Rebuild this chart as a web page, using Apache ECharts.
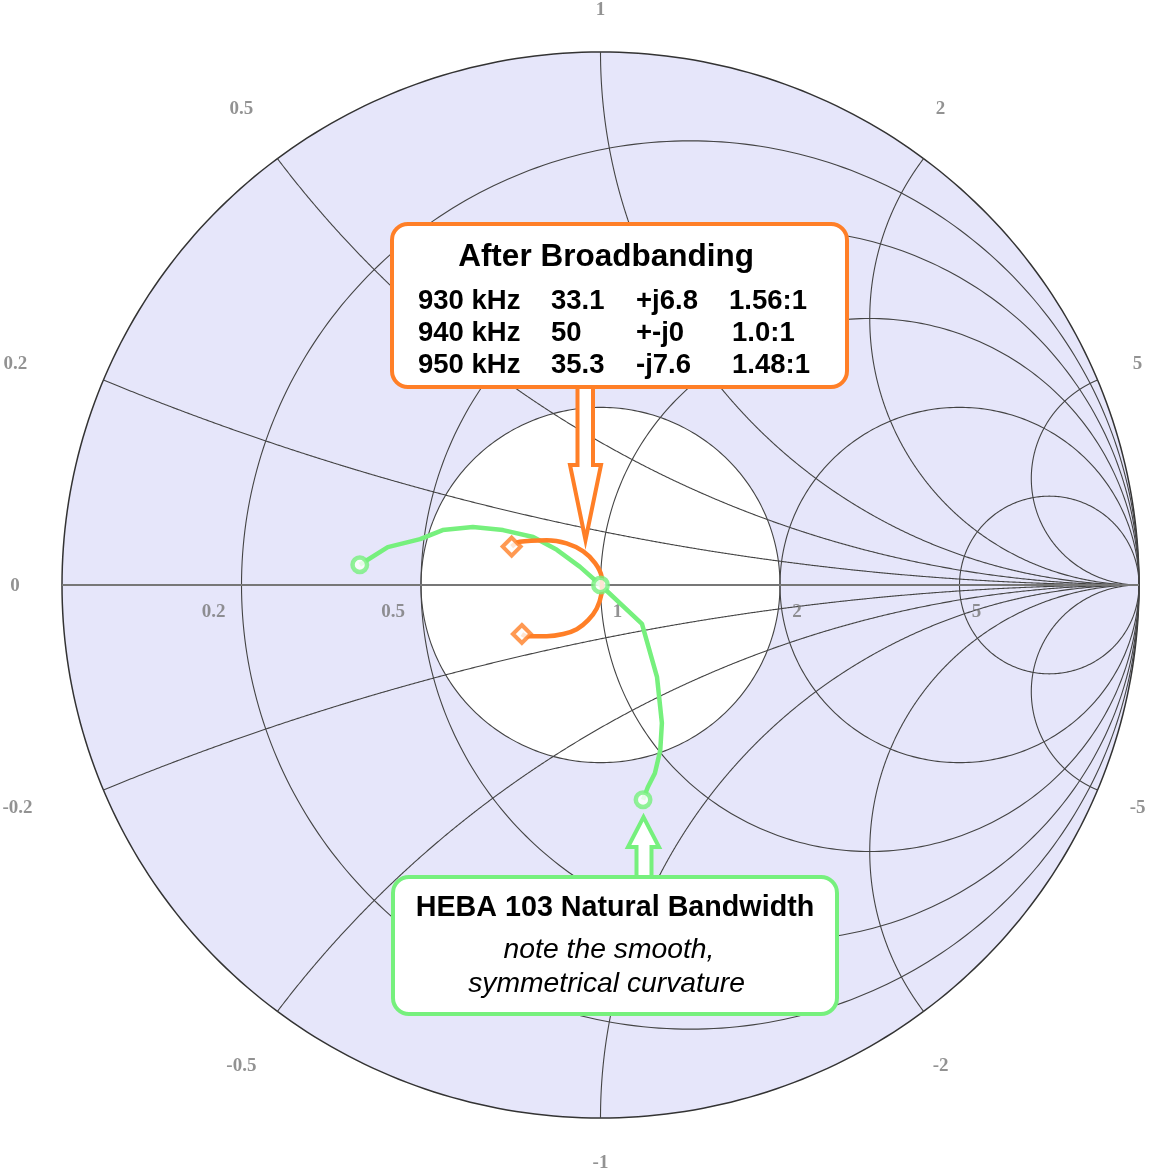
<!DOCTYPE html>
<html><head><meta charset="utf-8">
<script src="https://cdn.jsdelivr.net/npm/echarts@6/dist/echarts.min.js"></script>
<style>html,body{margin:0;padding:0;background:#fff}#c{width:1149px;height:1173px}</style>
</head><body><div id="c"></div>
<script>
// ---- Smith chart grid values ----
const resistanceTicks = [0.2, 0.5, 1, 2, 5];
const realAxisLabels = ['0.2', '0.5', '1', '2', '5'];
const reactanceTicks = [0.2, 0.5, 1, 2, 5, -0.2, -0.5, -1, -2, -5];
const imagLabelTicks = [1, 0.5, 2, 0.2, 5, 0, -0.2, -5, -0.5, -2, -1];
const imagAxisLabels = ['1', '0.5', '2', '0.2', '5', '0', '-0.2', '-5', '-0.5', '-2', '-1'];
const vswrRatio = 2; // 2:1 VSWR circle (white)

const hebaRe = [-0.447, -0.395, -0.335, -0.293, -0.237, -0.181, -0.125, -0.081, -0.038, 0.000, 0.077, 0.105, 0.114, 0.111, 0.101, 0.088, 0.079];
const hebaIm = [0.038, 0.071, 0.086, 0.103, 0.109, 0.103, 0.090, 0.066, 0.034, 0.000, -0.073, -0.173, -0.259, -0.310, -0.353, -0.379, -0.403];
const hebaMarkerIdx = [0, 9, 16];
const bbRe = [-0.165, -0.150, -0.100, -0.063, -0.032, -0.010, 0.002, 0.003, 0.002, -0.007, -0.023, -0.044, -0.069, -0.100, -0.137, -0.146];
const bbIm = [0.072, 0.081, 0.084, 0.078, 0.063, 0.041, 0.016, 0.000, -0.016, -0.044, -0.066, -0.083, -0.092, -0.096, -0.096, -0.092];
const bbMarkerIdx = [0, 15];

// ---- Annotation text ----
const bbTitle = 'After Broadbanding';
const bbFreq = ['930 kHz', '940 kHz', '950 kHz'];
const bbR = ['33.1', '50', '35.3'];
const bbX = ['+j6.8', '+-j0', '-j7.6'];
const bbSwr = ['1.56:1', '1.0:1', '1.48:1'];
const hebaTitle = 'HEBA 103 Natural Bandwidth';
const hebaNote = ['note the smooth,', 'symmetrical curvature'];

const ORANGE = '#ff7f27';
const GREEN = '#76f07d';
const LAV = '#e6e6fa';

function gam(r, x) { const d = (r + 1) * (r + 1) + x * x; return [(r * r + x * x - 1) / d, 2 * x / d]; }

const gridDefs = [{ kind: 'outer' }];
resistanceTicks.forEach(r => gridDefs.push({ kind: 'r', v: r }));
reactanceTicks.forEach(x => gridDefs.push({ kind: 'x', v: x }));
gridDefs.push({ kind: 'vswr', v: vswrRatio });
gridDefs.push({ kind: 'axis' });

function circlePts(c, R) {
  const p = [];
  for (let i = 0; i <= 360; i++) { const t = i / 360 * 2 * Math.PI; p.push([c + R * Math.cos(t), R * Math.sin(t)]); }
  return p;
}
function pathPoints(def) {
  if (def.kind === 'outer') return circlePts(0, 1);
  if (def.kind === 'r') return circlePts(def.v / (def.v + 1), 1 / (def.v + 1));
  if (def.kind === 'vswr') return circlePts(0, (def.v - 1) / (def.v + 1));
  if (def.kind === 'axis') return [[-1, 0], [1, 0]];
  const p = [];
  for (let i = 0; i < 800; i++) { const r = Math.tan(i / 800 * Math.PI / 2); p.push(gam(r, def.v)); }
  p.push([1, 0]);
  return p;
}
function styleOf(def) {
  if (def.kind === 'outer') return { stroke: '#333', lineWidth: 1.5 };
  if (def.kind === 'axis') return { stroke: '#777', lineWidth: 2 };
  if (def.kind === 'vswr') return { stroke: '#444', lineWidth: 1.1 };
  return { stroke: '#444', lineWidth: 1.1 };
}

const labelFont = { fontFamily: 'Liberation Serif', fontWeight: 'bold', fontSize: 19, color: '#777' };
const imagOffsets = {
  '1': [0, -42], '0.5': [-36, -50], '2': [17, -50], '0.2': [-88, -16], '5': [40, -16], '0': [-47, 1],
  '-0.2': [-86, 18], '-5': [40, 18], '-0.5': [-36, 55], '-2': [17, 55], '-1': [0, 45]
};

const FONT = '"Liberation Sans", Arial, sans-serif';
const chart = echarts.init(document.getElementById('c'));
const option = {
  animation: false,
  backgroundColor: '#fff',
  grid: { left: 62, top: 52, width: 1077, height: 1066 },
  xAxis: { type: 'value', min: -1, max: 1, show: false },
  yAxis: { type: 'value', min: -1, max: 1, show: false },
  series: [
    {
      type: 'custom', name: 'fill', z: 1, silent: true,
      data: [[0, 0]],
      renderItem: (params, api) => {
        const disk = circlePts(0, 1).map(p => api.coord(p));
        const g = (vswrRatio - 1) / (vswrRatio + 1);
        const white = circlePts(0, g).map(p => api.coord(p));
        return { type: 'group', children: [
          { type: 'polygon', shape: { points: disk }, style: { fill: LAV, stroke: null } },
          { type: 'polygon', shape: { points: white }, style: { fill: '#fff', stroke: null } }
        ] };
      }
    },
    {
      type: 'custom', name: 'grid', z: 2, silent: true,
      data: gridDefs.map(() => [0, 0]),
      renderItem: (params, api) => {
        const def = gridDefs[params.dataIndex];
        const pts = pathPoints(def).map(p => api.coord(p));
        return { type: 'polyline', shape: { points: pts }, style: Object.assign({ fill: null }, styleOf(def)) };
      }
    },
    {
      type: 'scatter', name: 'realLabels', z: 3, silent: true, symbolSize: 0.1,
      itemStyle: { color: 'transparent' },
      data: resistanceTicks.map((r, i) => ({
        value: [gam(r, 0)[0], 0],
        label: { show: true, position: 'inside', formatter: realAxisLabels[i], offset: [r < 1 ? -28 : 17, 27], ...labelFont }
      }))
    },
    {
      type: 'scatter', name: 'imagLabels', z: 3, silent: true, symbolSize: 0.1,
      itemStyle: { color: 'transparent' },
      data: imagLabelTicks.map((x, i) => ({
        value: gam(0, x),
        label: { show: true, position: 'inside', formatter: imagAxisLabels[i], offset: imagOffsets[imagAxisLabels[i]], ...labelFont }
      }))
    },
    {
      type: 'line', name: 'HEBA 103 Natural Bandwidth', z: 5,
      data: hebaRe.map((u, i) => [u, hebaIm[i]]),
      showSymbol: false, smooth: false,
      lineStyle: { color: GREEN, width: 4.5 }
    },
    {
      type: 'line', name: 'After Broadbanding', z: 6,
      data: bbRe.map((u, i) => [u, bbIm[i]]),
      showSymbol: false, smooth: 0.35,
      lineStyle: { color: ORANGE, width: 4.5 }
    },
    {
      type: 'scatter', name: 'bbMarkers', z: 7,
      data: bbMarkerIdx.map(i => [bbRe[i], bbIm[i]]),
      symbol: 'diamond', symbolSize: 18,
      itemStyle: { color: '#fff', borderColor: ORANGE, borderWidth: 4 }
    },
    {
      type: 'scatter', name: 'hebaMarkers', z: 8,
      data: hebaMarkerIdx.map(i => [hebaRe[i], hebaIm[i]]),
      symbol: 'circle', symbolSize: 14.5,
      itemStyle: { color: '#fff', borderColor: GREEN, borderWidth: 4.5 }
    }
  ],
  graphic: [
    // orange callout
    { type: 'rect', z: 100, shape: { x: 392, y: 224, width: 455, height: 163, r: 16 },
      style: { fill: '#fff', stroke: ORANGE, lineWidth: 4 } },
    { type: 'polygon', z: 101, shape: { points: [[577.5, 387], [577.5, 465], [570, 465], [585.5, 540], [601, 465], [593, 465], [593, 387]] },
      style: { fill: '#fff', stroke: ORANGE, lineWidth: 4, lineJoin: 'miter' } },
    { type: 'text', z: 102, style: { x: 606, y: 257, text: bbTitle, align: 'center', verticalAlign: 'middle',
      font: 'bold 31.5px ' + FONT, fill: '#000' } },
    ...[0, 1, 2].flatMap(k => {
      const y = 301 + k * 32;
      const cols = [[418, bbFreq[k]], [551, bbR[k]], [636, bbX[k]], [k === 0 ? 729 : 732, bbSwr[k]]];
      return cols.map(([x, t]) => ({ type: 'text', z: 102, style: { x, y, text: t, align: 'left', verticalAlign: 'middle',
        font: 'bold 27.5px ' + FONT, fill: '#000' } }));
    }),
    // green callout
    { type: 'rect', z: 100, shape: { x: 393, y: 877, width: 444, height: 137, r: 16 },
      style: { fill: '#fff', stroke: GREEN, lineWidth: 4 } },
    { type: 'polygon', z: 101, shape: { points: [[636.5, 877], [636.5, 847], [628, 847], [643.5, 817], [659, 847], [651.5, 847], [651.5, 877]] },
      style: { fill: '#fff', stroke: GREEN, lineWidth: 4, lineJoin: 'miter' } },
    { type: 'text', z: 102, style: { x: 615, y: 908, text: hebaTitle, align: 'center', verticalAlign: 'middle',
      font: 'bold 28.7px ' + FONT, fill: '#000' } },
    { type: 'text', z: 102, style: { x: 609, y: 950, text: hebaNote[0], align: 'center', verticalAlign: 'middle',
      font: 'italic 28.3px ' + FONT, fill: '#000' } },
    { type: 'text', z: 102, style: { x: 606.5, y: 984, text: hebaNote[1], align: 'center', verticalAlign: 'middle',
      font: 'italic 28.3px ' + FONT, fill: '#000' } }
  ]
};
chart.setOption(option);
</script>
</body></html>
